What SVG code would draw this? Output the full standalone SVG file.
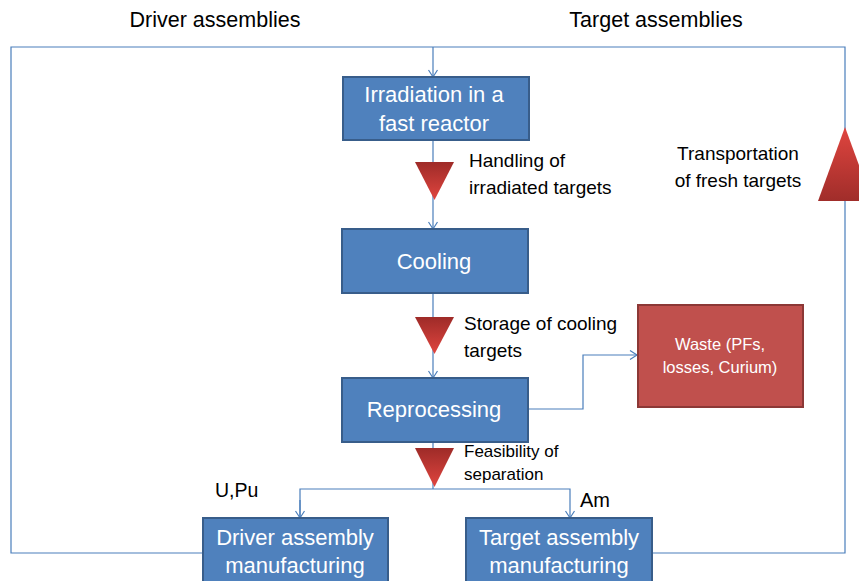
<svg xmlns="http://www.w3.org/2000/svg" width="859" height="581" viewBox="0 0 859 581">
<style>
.box{fill:#4F81BD;stroke:#385D8A;stroke-width:2}
.waste{fill:#C0504D;stroke:#8C3836;stroke-width:2}
.bt{font-family:"Liberation Sans",Arial,sans-serif;font-size:22px;fill:#fff;text-anchor:middle}
.wt{font-family:"Liberation Sans",Arial,sans-serif;font-size:16.5px;fill:#fff;text-anchor:middle}
.lb{font-family:"Liberation Sans",Arial,sans-serif;font-size:19px;fill:#000}
.hd{font-family:"Liberation Sans",Arial,sans-serif;font-size:21.5px;fill:#000;text-anchor:middle}
.cn{fill:none;stroke:#4A7EBB;stroke-width:1.2}
</style>
<defs>
<marker id="ah" markerWidth="10" markerHeight="10" refX="8" refY="5" orient="auto" markerUnits="userSpaceOnUse">
<path d="M1,0.5 L8,5 L1,9.5" fill="none" stroke="#4A7EBB" stroke-width="1.2"/>
</marker>
<linearGradient id="gd" x1="0" y1="0" x2="0" y2="1">
<stop offset="0" stop-color="#9E2B28"/>
<stop offset="1" stop-color="#E0453F"/>
</linearGradient>
<linearGradient id="gu" x1="0" y1="0" x2="0" y2="1">
<stop offset="0" stop-color="#E0453F"/>
<stop offset="1" stop-color="#A02D2A"/>
</linearGradient>
</defs>

<g id="connectors">
<polyline class="cn" points="203,553 11,553 11,47 845,47 845,553 652,553"/>
<line class="cn" x1="433" y1="47" x2="433" y2="77" marker-end="url(#ah)"/>
<line class="cn" x1="433" y1="140" x2="433" y2="229" marker-end="url(#ah)"/>
<line class="cn" x1="433" y1="293" x2="433" y2="378" marker-end="url(#ah)"/>
<polyline class="cn" points="528,409 583,409 583,355 637,355" marker-end="url(#ah)"/>
<line class="cn" x1="433" y1="442" x2="433" y2="489"/>
<polyline class="cn" points="300,518 300,489 570,489 570,518" marker-end="url(#ah)"/>
<line class="cn" x1="300" y1="500" x2="300" y2="518" marker-end="url(#ah)"/>
</g>

<g id="labels">
<text class="hd" x="215" y="27">Driver assemblies</text>
<text class="hd" x="656" y="27">Target assemblies</text>
</g>

<g id="irradiation">
<rect class="box" x="343" y="77" width="186" height="63"/>
<text class="bt" x="434" y="102">Irradiation in a</text>
<text class="bt" x="434" y="131">fast reactor</text>
</g>

<g id="handling">
<polygon points="415,162 454,162 434.5,200" fill="url(#gd)"/>
<text class="lb" x="469" y="167">Handling of</text>
<text class="lb" x="469" y="194">irradiated targets</text>
</g>

<g id="cooling">
<rect class="box" x="342" y="229" width="186" height="64"/>
<text class="bt" x="434" y="269">Cooling</text>
</g>

<g id="storage">
<polygon points="415,317 454,317 434.5,354" fill="url(#gd)"/>
<text class="lb" x="464" y="330">Storage of cooling</text>
<text class="lb" x="464" y="357">targets</text>
</g>

<g id="reprocessing">
<rect class="box" x="342" y="378" width="186" height="64"/>
<text class="bt" x="434" y="417">Reprocessing</text>
</g>

<g id="waste">
<rect class="waste" x="638" y="305" width="165" height="102"/>
<text class="wt" x="720" y="350">Waste (PFs,</text>
<text class="wt" x="720" y="373">losses, Curium)</text>
</g>

<g id="feasibility">
<polygon points="415,448 454,448 434.5,487" fill="url(#gd)"/>
<text class="lb" x="464" y="457" style="font-size:17px">Feasibility of</text>
<text class="lb" x="464" y="480" style="font-size:17px">separation</text>
</g>

<g id="upu">
<text class="lb" x="215" y="497" style="font-size:19.5px">U,Pu</text>
</g>
<g id="am">
<text class="lb" x="580" y="507" style="font-size:20px">Am</text>
</g>

<g id="driver">
<rect class="box" x="203" y="518" width="185" height="70"/>
<text class="bt" x="295" y="545">Driver assembly</text>
<text class="bt" x="295" y="573">manufacturing</text>
</g>

<g id="target">
<rect class="box" x="466" y="518" width="186" height="70"/>
<text class="bt" x="559" y="545">Target assembly</text>
<text class="bt" x="559" y="573">manufacturing</text>
</g>

<g id="transportation">
<polygon points="845,127 872,201 818,201" fill="url(#gu)"/>
<text class="lb" x="738" y="160" text-anchor="middle">Transportation</text>
<text class="lb" x="738" y="187" text-anchor="middle">of fresh targets</text>
</g>
</svg>
